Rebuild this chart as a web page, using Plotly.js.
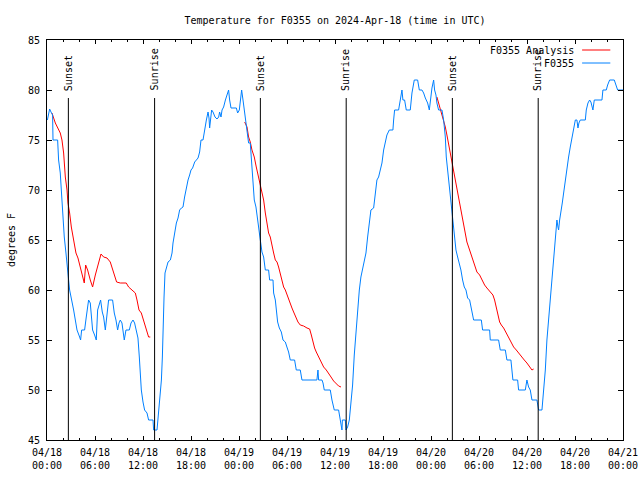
<!DOCTYPE html>
<html>
<head>
<meta charset="utf-8">
<script src="https://cdn.plot.ly/plotly-3.0.1.min.js"></script>
<style>html,body{margin:0;padding:0;background:#fff;}#chart{width:640px;height:480px;}</style>
</head>
<body>
<div id="chart"></div>
<script>
// Hours since 2024-04-18 00:00 UTC
const obsHours = [0.05,0.33,0.5,0.7,0.75,1.33,1.45,1.66,1.79,1.95,2.16,2.37,2.58,2.70,2.83,3.12,3.33,3.54,3.75,4.08,4.2,4.33,4.7,4.91,5.2,5.41,5.54,5.7,5.95,6.16,6.33,6.58,6.7,6.91,7.08,7.29,7.5,7.7,8.2,8.41,8.62,8.83,9.0,9.16,9.37,9.5,9.66,9.87,10.29,10.5,10.75,10.95,11.12,11.37,11.54,
  11.67,11.79,12.0,12.2,12.5,12.7,13.25,13.33,13.75,13.88,14.08,14.3,14.42,14.5,14.63,14.75,14.92,15.13,15.42,15.63,15.75,15.96,16.17,16.38,16.58,16.8,17.0,17.2,17.42,17.63,17.83,18.0,18.2,18.46,18.67,18.88,19.08,19.25,19.5,19.7,19.92,20.13,20.25,20.33,20.42,20.58,20.75,21.0,21.25,21.46,21.58,21.75,21.88,22.08,22.3,22.5,22.7,22.83,23.0,23.67,23.83,24.04,24.17,24.33,24.5,24.67,24.8,25.0,25.2,
  25.41,25.54,25.66,25.79,25.91,26.12,26.25,26.45,26.58,26.75,26.87,27.08,27.29,27.7,27.83,28.25,28.33,28.54,28.66,28.83,29.04,29.29,29.5,29.79,29.99,30.2,30.41,30.95,31.16,31.66,31.87,33.74,33.87,33.95,34.37,34.5,34.66,35.41,35.62,35.91,36.45,36.58,36.75,36.87,
  36.92,37.29,37.37,37.58,37.79,38.0,38.2,38.41,38.62,38.83,39.04,39.24,39.45,39.66,39.87,40.08,40.29,40.49,40.83,41.04,41.24,41.45,41.66,41.87,42.08,42.29,42.49,42.79,43.24,43.33,43.45,43.95,44.16,44.37,44.49,44.7,44.91,45.41,45.62,45.91,46.33,46.54,46.87,47.08,47.29,47.58,47.79,47.91,48.12,48.33,
  48.45,48.62,48.74,48.95,49.37,49.58,49.79,49.91,50.08,50.29,50.49,50.7,50.91,51.12,51.33,51.54,51.74,51.95,52.16,52.37,52.58,52.83,53.12,53.33,54.29,54.45,55.33,55.41,56.45,56.66,57.29,57.49,57.99,58.12,58.24,58.83,58.95,59.79,59.99,60.2,60.41,60.62,61.24,
  61.45,61.87,62.08,62.29,62.49,62.7,62.91,63.12,63.33,63.45,63.62,63.74,63.87,63.95,64.08,64.24,64.41,64.58,64.79,64.99,65.2,65.41,65.62,65.83,66.04,66.24,66.37,66.49,66.66,67.29,67.41,67.62,67.83,67.99,68.12,68.24,68.41,69.37,69.49,69.91,70.08,70.33,70.91,71.12,71.33,72.0];
const obsTemps = [77.0,78.1,77.8,77.5,75,75,73,71.7,70,67.3,65.3,63.7,62.3,61,60,59,58,57,56,55.3,55,56,56,57.3,59,58.7,57.3,56,55.5,55,58,58.8,59,57.8,57.3,56,57.7,59,59,57.7,57,56,56.7,57,56.7,56,55,56,56,56.7,57,56.7,56,55.2,53.3,
  51.8,50,48.8,48,47.7,47,47,46,46,47.3,49.3,51,53.3,56.3,59.3,61.7,62.3,62.8,63,63.7,64.7,65.7,66.7,67.2,68,68.2,68.3,69.3,70.3,71,71.5,72,72.2,72.8,73,73.2,73.8,75,75,76.2,77,77.8,77.2,76.2,77,78,77.8,77.3,77.1,77.3,77.8,77.3,78,78.3,79,79.5,80,79,78.2,78.2,77.7,78,79.2,80,79,77.8,77,75.7,74.7,
  74.7,73.3,71.7,70,69,68.3,67.3,66.3,65.5,64.5,63.8,63.3,62,62,61,61,59.7,59,58,56.8,56.2,55.8,55,54.8,54.3,53.8,53,53,52,52,51,51,52,51,51,50.7,50,50,49,48,48,47.3,46.3,46,
  47,47,46,46.3,47,48.7,50.5,53.5,56,58,60,61.3,62,62.7,63.7,65.3,67,68,68.2,70,71,71.3,72,72.7,74,75,75.5,76,76,77,78,78,79.2,80,79,79,78,78,79.7,81,81,80,80,79.7,79.2,78.7,78,79,80.2,81,
  80,79.5,78.7,78,78,77,75.3,73.3,72,70,68.3,66.7,65,64,63.3,62.7,62,61,60.3,60,59.2,59,58,57,57,56,56,55,55,54,54,53,53,52,51,51,50,50,51,50.3,50,49,49,
  48,48,50,52,55,57,59,61.7,63,64.7,65.7,67,66.3,66,67,67.7,68.7,69.7,71,72.3,73.3,74.3,75.3,76.2,77,77,76.2,76.7,77,77,78,78.7,79,78.8,78.3,78,79,79,80,80,80.5,81,81,80.5,80,80];

const anaHours = [0.62,1.04,1.66,1.87,2.08,2.29,2.5,2.62,2.83,3.04,3.33,3.62,3.87,4.16,4.45,4.66,4.83,5.08,5.41,5.7,6.04,6.45,6.75,7.08,7.5,7.91,8.12,8.41,8.7,9.16,9.91,10.2,10.62,11.04,11.25,11.5,11.79,12.08,12.41,12.7,12.91,
  null,
  24.71,25.0,25.2,25.41,25.62,25.91,26.16,26.45,26.66,26.87,27.08,27.29,27.5,27.7,27.91,28.12,28.33,28.54,28.75,28.95,29.16,29.37,29.58,29.79,30.08,30.41,30.62,30.83,31.12,31.37,31.66,32.08,32.5,32.83,33.04,33.25,33.45,33.66,33.95,34.25,34.58,34.91,35.2,35.5,35.83,36.16,36.45,36.75,
  null,
  48.74,48.95,49.16,49.37,49.58,49.79,49.99,50.2,50.41,50.62,50.83,51.04,51.24,51.45,51.66,51.87,52.08,52.29,52.49,52.7,52.91,53.12,53.33,53.54,53.74,54.08,54.37,54.7,54.99,55.41,55.74,55.95,56.16,56.37,56.58,56.79,57.08,57.41,57.7,58.04,58.33,58.66,58.95,59.29,59.66,59.99,60.33,60.62,60.83];
const anaTemps = [77.7,76.7,75.7,75,73.7,71.3,70,68.7,67.7,66.3,65,63.7,63.2,62.3,61.3,60.7,62.5,62,61,60.3,61.5,62.7,63.6,63.3,63.2,62.8,62.3,61.5,60.8,60.7,60.7,60.3,60,59.7,59,58,57.7,57,56,55.3,55.3,
  null,
  76.8,76.3,75.3,74.8,74,73.3,72.3,71.3,70.3,69.7,69,67.7,66.7,65.7,65.3,64.3,63.7,63,62.8,62.3,61.7,61,60.3,60,59.3,58.7,58.2,57.8,57.3,56.8,56.5,56.4,56.2,56.1,55.5,54.8,54.2,53.8,53.3,52.8,52.3,52,51.7,51.3,50.9,50.6,50.4,50.3,
  null,
  79.3,78.7,78.2,77.6,77,76.3,75.5,74.6,73.7,72.8,72,71,70.2,69.3,68.4,67.8,66.7,65.7,64.8,64.3,63.8,63.3,62.7,62.2,61.8,61.5,61,60.5,60.2,59.8,59.5,59,58.3,57.7,56.8,56.5,56.2,55.7,55.3,54.8,54.3,54,53.7,53.3,53,52.7,52.3,52,52.1];

const eventHours = [2.67, 13.45, 26.67, 37.4, 50.67, 61.4];
const eventLabels = ['Sunset','Sunrise','Sunset','Sunrise','Sunset','Sunrise'];

const tickHours = [0,6,12,18,24,30,36,42,48,54,60,66,72];
const tickLabels = ['04/18<br>00:00','04/18<br>06:00','04/18<br>12:00','04/18<br>18:00','04/19<br>00:00','04/19<br>06:00','04/19<br>12:00','04/19<br>18:00','04/20<br>00:00','04/20<br>06:00','04/20<br>12:00','04/20<br>18:00','04/21<br>00:00'];
const yTicks = [45,50,55,60,65,70,75,80,85];

const seriesNames = ['F0355 Analysis','F0355'];
const seriesColors = ['#ff0000','#0080ff'];

const FONT = 'DejaVu Sans Mono, Liberation Mono, monospace';

const traces = [
  {x: anaHours, y: anaTemps, mode: 'lines', name: seriesNames[0], line: {color: seriesColors[0], width: 1}, connectgaps: false, hoverinfo: 'skip'},
  {x: obsHours, y: obsTemps, mode: 'lines', name: seriesNames[1], line: {color: seriesColors[1], width: 1}, hoverinfo: 'skip'}
];

const shapes = [];
const annotations = [];
eventHours.forEach((h, i) => {
  shapes.push({type: 'line', xref: 'x', yref: 'paper', x0: h, x1: h, y0: 0, y1: 0.855, line: {color: '#000', width: 1}});
  annotations.push({xref: 'x', yref: 'paper', x: h, y: 0.868, xanchor: 'center', yanchor: 'bottom', textangle: -90, text: eventLabels[i], showarrow: false, font: {family: FONT, size: 10, color: '#000'}});
});
// legend (text left of sample line, like the reference)
const legY = [0.975, 0.9425];
seriesNames.forEach((n, i) => {
  annotations.push({xref: 'paper', yref: 'paper', x: 0.918, y: legY[i], xanchor: 'right', yanchor: 'middle', text: n, showarrow: false, font: {family: FONT, size: 10, color: '#000'}});
  shapes.push({type: 'line', xref: 'paper', yref: 'paper', x0: 0.929, x1: 0.978, y0: legY[i], y1: legY[i], line: {color: seriesColors[i], width: 1}});
});

const layout = {
  width: 640, height: 480,
  margin: {l: 47, r: 17, t: 40, b: 40},
  paper_bgcolor: '#fff', plot_bgcolor: '#fff',
  showlegend: false,
  font: {family: FONT, size: 10, color: '#000'},
  title: {text: 'Temperature for F0355 on 2024-Apr-18 (time in UTC)', font: {family: FONT, size: 10, color: '#000'}, x: 0.5, xref: 'paper', y: 0.958, yref: 'container', yanchor: 'middle'},
  xaxis: {
    range: [0, 72], tickmode: 'array', tickvals: tickHours, ticktext: tickLabels,
    ticks: 'inside', ticklen: 4, tickcolor: '#000', showline: true, linecolor: '#000', linewidth: 1, mirror: 'ticks',
    showgrid: false, zeroline: false, ticklabelstandoff: 3,
    minor: {tickmode: 'linear', tick0: 0, dtick: 2, ticks: 'inside', ticklen: 2, tickcolor: '#000', showgrid: false},
    tickfont: {family: FONT, size: 10, color: '#000'}
  },
  yaxis: {
    range: [45, 85], tickmode: 'array', tickvals: yTicks,
    ticks: 'inside', ticklen: 5, tickcolor: '#000', showline: true, linecolor: '#000', linewidth: 1, mirror: 'ticks',
    showgrid: false, zeroline: false, ticklabelstandoff: 4,
    title: {text: 'degrees F', font: {family: FONT, size: 10, color: '#000'}, standoff: 10},
    tickfont: {family: FONT, size: 10, color: '#000'}
  },
  shapes: shapes,
  annotations: annotations
};

Plotly.newPlot('chart', traces, layout, {displayModeBar: false, staticPlot: true});
</script>
</body>
</html>
